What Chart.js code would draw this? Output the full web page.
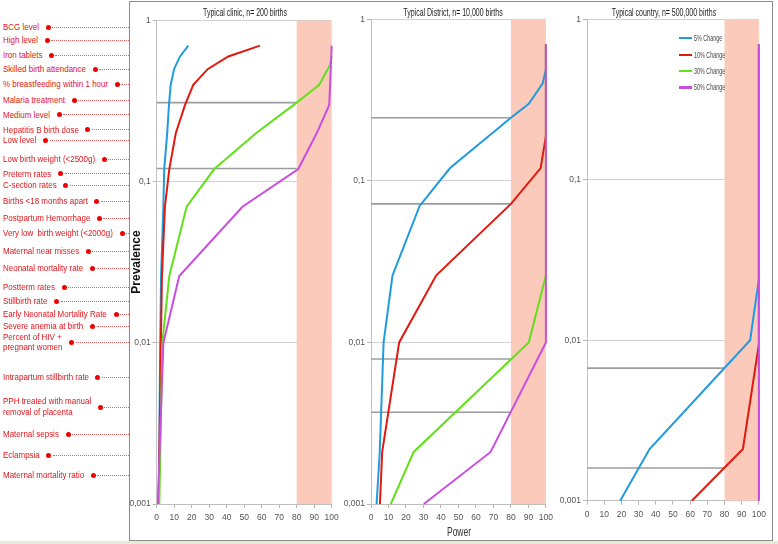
<!DOCTYPE html>
<html>
<head>
<meta charset="utf-8">
<script src="https://cdn.jsdelivr.net/npm/chart.js@4.4.0/dist/chart.umd.min.js"></script>
<style>
  html, body { margin: 0; padding: 0; background: #fff; }
  body { width: 778px; height: 544px; position: relative; overflow: hidden; font-family: "Liberation Sans", Arial, sans-serif; }
  #frame { position: absolute; left: 129px; top: 1px; width: 642px; height: 538px; border: 1px solid #8c8c8c; }
  #foot { position: absolute; left: 0; top: 541px; width: 778px; height: 3px; background: #e8ead2; }
  canvas { position: absolute; top: 0; }
  .ttl { position: absolute; top: 7px; font-size: 10px; line-height: 12px; color: #222; white-space: nowrap; transform: translateX(-50%) scaleX(0.7); }
  .lbl { position: absolute; left: 3px; font-size: 9.5px; line-height: 10.7px; color: #e3141b; white-space: pre; transform: scaleX(0.84); transform-origin: left center; }
  .dot { position: absolute; width: 5px; height: 5px; border-radius: 50%; background: #ee0000; }
  .lead { position: absolute; height: 0; border-top: 1px dotted #e46060; }
  #ylab { position: absolute; left: 136px; top: 262px; font-size: 12px; font-weight: bold; color: #111; white-space: nowrap; transform: translate(-50%, -50%) rotate(-90deg); }
  #xlab { position: absolute; left: 459px; top: 524px; font-size: 13px; line-height: 15px; color: #333; white-space: nowrap; transform: translateX(-50%) scaleX(0.65); }
  .legline { position: absolute; left: 679px; width: 13px; }
  .legtxt { position: absolute; left: 694px; font-size: 9px; line-height: 10px; color: #444; white-space: nowrap; transform: scaleX(0.6); transform-origin: left center; }
</style>
</head>
<body>
<div id="frame"></div>
<div id="foot"></div>
<canvas id="c1" width="215" height="540" style="left:130px;width:215px;height:540px"></canvas>
<canvas id="c2" width="223" height="540" style="left:335px;width:223px;height:540px"></canvas>
<canvas id="c3" width="223" height="540" style="left:548px;width:223px;height:540px"></canvas>
<div id="ylab">Prevalence</div>
<div id="xlab">Power</div>
<script>
// axes
const powerTicks = [0, 10, 20, 30, 40, 50, 60, 70, 80, 90, 100];
const yTickValues = [0.001, 0.01, 0.1, 1];
const yTickLabels = ['0,001', '0,01', '0,1', '1'];
const bandRange = [80, 100];

const seriesLabels = ['5% Change', '10% Change', '30% Change', '50% Change'];
const panelTitles = ['Typical clinic, n= 200 births', 'Typical District, n= 10,000 births', 'Typical country, n= 500,000 births'];

// [power, prevalence]
const clinic5  = [[1.2,0.001],[2.0,0.01],[2.5,0.026],[3.8,0.07],[4.3,0.12],[6.0,0.2],[7.0,0.3],[8.0,0.4],[9.9,0.5],[13.3,0.6],[18.1,0.7]];
const clinic10 = [[1.1,0.001],[2.4,0.01],[3.0,0.026],[4.7,0.07],[7.2,0.12],[10.9,0.2],[16.2,0.3],[20.9,0.4],[29.1,0.5],[40.9,0.6],[59,0.7]];
const clinic30 = [[1.5,0.001],[3.2,0.01],[7.2,0.026],[17.1,0.07],[32.9,0.12],[56.7,0.2],[80,0.31],[92.9,0.4],[99,0.53],[100,0.6]];
const clinic50 = [[0.6,0.001],[3.8,0.01],[12.9,0.026],[49,0.07],[80.9,0.12],[91.4,0.2],[98.6,0.3],[100,0.7]];
const clinicCut = [0.31, 0.121];

const district5  = [[3.2,0.001],[5.0,0.0021],[7.2,0.01],[12.3,0.026],[27.8,0.07],[45.2,0.12],[80,0.246],[90.2,0.3],[98.1,0.4],[100,0.49],[100,0.7]];
const district10 = [[5.1,0.001],[6.4,0.0021],[16.1,0.01],[37.3,0.026],[80,0.072],[97,0.12],[100,0.19],[100,0.7]];
const district30 = [[11.3,0.001],[24.4,0.0021],[90.2,0.01],[100,0.026],[100,0.7]];
const district50 = [[30.2,0.001],[68.4,0.0021],[100,0.01],[100,0.7]];
const districtCut = [0.246, 0.072, 0.0079, 0.0037];

const country5  = [[19.3,0.001],[36.4,0.0021],[94.9,0.01],[100,0.024],[100,0.7]];
const country10 = [[61,0.001],[90.7,0.0021],[100,0.0095],[100,0.7]];
const country30 = [[100,0.001],[100,0.7]];
const country50 = [[100,0.001],[100,0.7]];
const countryCut = [0.0067, 0.0016];

// indicators on the left, placed at their prevalence
const indicatorNames = [
  'BCG level', 'High level', 'Iron tablets', 'Skilled birth attendance', '% breastfeeding within 1 hour',
  'Malaria treatment', 'Medium level', 'Hepatitis B birth dose', 'Low level', 'Low birth weight (<2500g)',
  'Preterm rates', 'C-section rates', 'Births <18 months apart', 'Postpartum Hemorrhage',
  'Very low  birth weight (<2000g)', 'Maternal near misses', 'Neonatal mortality rate', 'Postterm rates',
  'Stillbirth rate', 'Early Neonatal Mortality Rate', 'Severe anemia at birth', 'Percent of HIV +\npregnant women',
  'Intrapartum stillbirth rate', 'PPH treated with manual\nremoval of placenta', 'Maternal sepsis', 'Eclampsia',
  'Maternal mortality ratio'
];
const indicatorPrev = [
  0.91, 0.75, 0.61, 0.50, 0.40,
  0.32, 0.26, 0.21, 0.18, 0.137,
  0.112, 0.095, 0.076, 0.059,
  0.048, 0.037, 0.029, 0.022,
  0.018, 0.015, 0.0127, 0.0101,
  0.0061, 0.004, 0.0027, 0.002,
  0.0015
];

const seriesColors = ['#1f9bde', '#e2190f', '#62e01a', '#c94ee0'];
const tickFont = { family: '"Liberation Sans Narrow", "Liberation Sans", Arial, sans-serif', size: 8.5 };

const band = {
  id: 'band',
  beforeDatasetsDraw(c) {
    const { ctx, chartArea: a, scales: { x } } = c;
    const x0 = x.getPixelForValue(bandRange[0]);
    const x1 = x.getPixelForValue(bandRange[1]);
    ctx.save();
    ctx.fillStyle = '#fbcabb';
    ctx.fillRect(x0, a.top, x1 - x0, a.bottom - a.top);
    ctx.restore();
  }
};

function makePanel(id, series, cuts, box) {
  const ds = series.map((pts, i) => ({
    label: seriesLabels[i],
    data: pts.map(p => ({ x: p[0], y: p[1] })),
    borderColor: seriesColors[i],
    borderWidth: 2,
    pointRadius: 0,
    showLine: true,
    tension: 0,
    clip: 4,
    order: 3 - i
  }));
  cuts.forEach(v => ds.push({
    data: [{ x: 0, y: v }, { x: bandRange[0], y: v }],
    borderColor: '#9c9c9c',
    borderWidth: 1.6,
    pointRadius: 0,
    showLine: true,
    order: 10
  }));
  return new Chart(document.getElementById(id), {
    type: 'scatter',
    data: { datasets: ds },
    options: {
      responsive: false,
      animation: false,
      devicePixelRatio: 1,
      layout: { padding: { left: 0, right: box.r, top: box.t, bottom: box.b } },
      plugins: { legend: { display: false }, tooltip: { enabled: false } },
      scales: {
        x: {
          type: 'linear', min: 0, max: 100,
          afterBuildTicks: s => { s.ticks = powerTicks.map(v => ({ value: v })); },
          afterFit: s => { s.height = 22; },
          ticks: { font: tickFont, color: '#555', padding: 5, maxRotation: 0, autoSkip: false },
          grid: { drawOnChartArea: false, tickLength: 4, tickColor: '#b5b5b5' },
          border: { color: '#bdbdbd' }
        },
        y: {
          type: 'logarithmic', min: 0.001, max: 1,
          afterBuildTicks: s => { s.ticks = yTickValues.map(v => ({ value: v })); },
          afterFit: s => { s.width = box.yw; },
          ticks: { font: tickFont, color: '#555', padding: 2, callback: (v, i) => yTickLabels[i] },
          grid: { color: '#d2d2d2', tickLength: 4, tickColor: '#b5b5b5' },
          border: { color: '#c4c4c4' }
        }
      }
    },
    plugins: [band]
  });
}

const chart1 = makePanel('c1', [clinic5, clinic10, clinic30, clinic50], clinicCut, { yw: 26.7, r: 13.3, t: 20.7, b: 14 });
makePanel('c2', [district5, district10, district30, district50], districtCut, { yw: 36, r: 10.7, t: 19.3, b: 14 });
makePanel('c3', [country5, country10, country30, country50], countryCut, { yw: 39, r: 8, t: 19.3, b: 17.3 });

// titles
[244.7, 452.7, 663.7].forEach((cx, i) => {
  const d = document.createElement('div');
  d.className = 'ttl';
  d.style.left = cx + 'px';
  d.textContent = panelTitles[i];
  document.body.appendChild(d);
});

// legend in the country panel
seriesLabels.forEach((t, i) => {
  const y = 38.3 + i * 16.3;
  const ln = document.createElement('div');
  ln.className = 'legline';
  const h = i === 3 ? 3 : 2;
  ln.style.top = (y - h / 2) + 'px';
  ln.style.height = h + 'px';
  ln.style.background = seriesColors[i];
  document.body.appendChild(ln);
  const tx = document.createElement('div');
  tx.className = 'legtxt';
  tx.style.top = (y - 5) + 'px';
  tx.textContent = t;
  document.body.appendChild(tx);
});

// indicator labels with dots and leaders
const yScale = chart1.scales.y;
indicatorNames.forEach((name, i) => {
  const y = yScale.getPixelForValue(indicatorPrev[i]);
  const lines = name.split('\n').length;
  const el = document.createElement('div');
  el.className = 'lbl';
  el.textContent = name;
  el.style.top = (y - lines * 10.7 / 2) + 'px';
  document.body.appendChild(el);
  const w = el.offsetWidth * 0.84;
  const cx = 3 + w + 9;
  const dot = document.createElement('div');
  dot.className = 'dot';
  dot.style.left = (cx - 2.5) + 'px';
  dot.style.top = (y - 2.5) + 'px';
  document.body.appendChild(dot);
  const lead = document.createElement('div');
  lead.className = 'lead';
  lead.style.left = (cx + 4) + 'px';
  lead.style.width = (129 - cx - 4) + 'px';
  lead.style.top = (y - 0.5) + 'px';
  document.body.appendChild(lead);
});
</script>
</body>
</html>
